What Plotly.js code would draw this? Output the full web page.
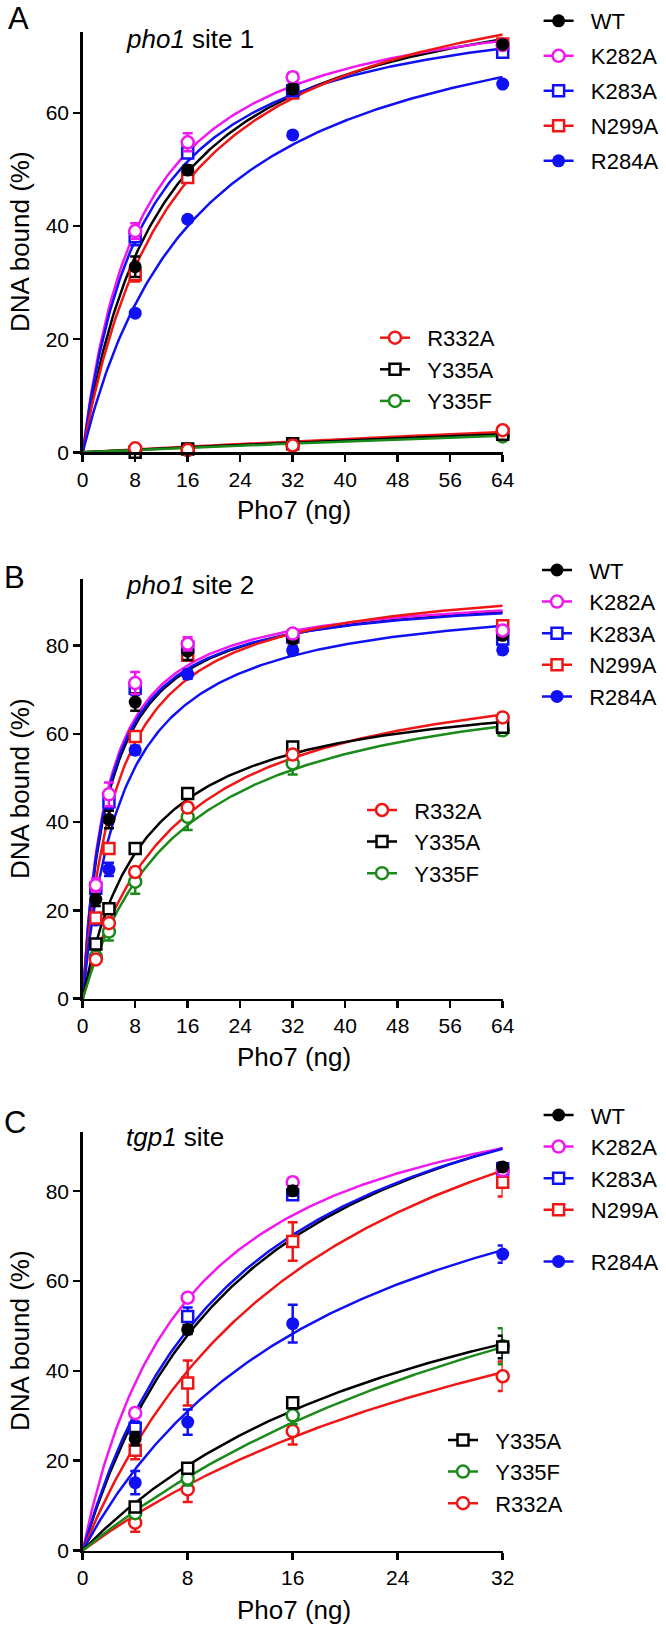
<!DOCTYPE html>
<html><head><meta charset="utf-8">
<script src="https://cdn.plot.ly/plotly-3.0.1.min.js"></script>
<style>html,body{margin:0;padding:0;background:#fff}</style>
</head><body><div id="chart" style="width:666px;height:1633px"></div>
<script>
// ---------- data ----------
const seriesNames = ['WT','K282A','K283A','N299A','R284A','R332A','Y335A','Y335F'];

// Panel A: pho1 site 1
const xA = [8, 16, 32, 64];
const A_WT    = [32.8, 49.9, 64.2, 72.1];
const A_K282A = [39.1, 54.8, 66.3, 72.0];
const A_K283A = [38.1, 52.9, 63.9, 70.7];
const A_N299A = [31.4, 48.6, 63.5, 72.2];
const A_R284A = [24.6, 41.2, 56.1, 65.1];
const A_R332A = [0.7, 0.4, 1.2, 3.9];
const A_Y335A = [0.0, 0.6, 1.5, 3.2];
const A_Y335F = [0.3, 0.5, 1.2, 2.8];
const A_errWT    = [1.8, 0.8, 0.8, 0.5];
const A_errK282A = [1.4, 1.6, 0.8, 0.8];
const A_errK283A = [1.5, 0.8, 0.8, 0.8];
const A_errN299A = [1.2, 0.8, 0.5, 0.5];
const A_errR284A = [0.5, 0.5, 0.5, 0.5];
const A_errR332A = [0.3, 0.3, 0.3, 0.3];
const A_errY335A = [0.3, 0.3, 0.3, 0.3];
const A_errY335F = [0.3, 0.3, 0.3, 0.3];
const A_fitBmax = [86.7, 83.0, 82.0, 90.0, 85.0, 31.7, 28.2, 25.6];
const A_fitKd   = [12.0, 9.0, 9.5, 14.0, 18.0, 500, 500, 500];

// Panel B: pho1 site 2
const xB = [2, 4, 8, 16, 32, 64];
const B_WT    = [22.5, 40.6, 67.2, 78.7, 81.5, 82.3];
const B_K282A = [25.7, 46.3, 71.5, 80.4, 82.7, 83.4];
const B_K283A = [25.0, 44.6, 70.3, 79.6, 82.0, 81.5];
const B_N299A = [18.3, 34.0, 59.4, 77.8, 82.0, 84.5];
const B_R284A = [17.8, 29.3, 56.3, 73.5, 78.9, 79.0];
const B_R332A = [8.9, 17.1, 28.7, 43.3, 55.3, 63.7];
const B_Y335A = [12.4, 20.4, 34.0, 46.5, 57.0, 61.5];
const B_Y335F = [9.5, 15.2, 26.5, 41.2, 53.3, 60.8];
const B_errWT    = [1.5, 2.0, 2.0, 2.0, 1.0, 1.0];
const B_errK282A = [1.5, 2.7, 2.5, 1.5, 1.0, 1.0];
const B_errK283A = [1.0, 1.5, 1.5, 1.0, 1.0, 1.0];
const B_errN299A = [1.0, 1.0, 1.0, 1.0, 1.0, 1.0];
const B_errR284A = [1.0, 1.5, 1.0, 1.0, 1.0, 1.0];
const B_errR332A = [0.5, 0.8, 1.0, 1.0, 1.0, 1.0];
const B_errY335A = [0.8, 0.8, 0.8, 0.8, 1.0, 1.0];
const B_errY335F = [1.0, 2.0, 2.7, 3.0, 2.5, 1.2];
const B_fitBmax = [93.0, 93.0, 92.5, 96.3, 92.5, 78.4, 71.9, 76.2];
const B_fitKd   = [4.0, 3.7, 3.8, 5.26, 6.1, 14.0, 9.44, 15.0];

// Panel C: tgp1 site
const xC = [4, 8, 16, 32];
const C_WT    = [24.9, 49.2, 80.1, 85.4];
const C_K282A = [30.6, 56.3, 82.0, 84.7];
const C_K283A = [27.2, 52.1, 79.2, 85.0];
const C_N299A = [22.3, 37.3, 68.8, 82.0];
const C_R284A = [15.1, 28.6, 50.5, 66.0];
const C_R332A = [6.2, 13.6, 26.6, 38.8];
const C_Y335A = [9.7, 18.3, 32.9, 45.3];
const C_Y335F = [8.3, 16.0, 30.1, 45.5];
const C_errWT    = [1.5, 1.0, 1.0, 1.0];
const C_errK282A = [1.0, 1.0, 1.0, 1.0];
const C_errK283A = [1.5, 2.0, 1.0, 1.0];
const C_errN299A = [2.0, 5.0, 4.3, 3.2];
const C_errR284A = [2.6, 2.8, 4.2, 1.9];
const C_errR332A = [2.0, 2.8, 3.0, 3.3];
const C_errY335A = [1.0, 1.0, 1.2, 2.5];
const C_errY335F = [1.0, 1.5, 2.0, 4.0];
const C_fitBmax = [126, 112, 123, 134.6, 108.7, 93.0, 87.7, 110.4];
const C_fitKd   = [13, 8, 12, 18.9, 20, 43, 29, 46];

const xTicksAB = [0, 8, 16, 24, 32, 40, 48, 56, 64];
const xTicksC  = [0, 8, 16, 24, 32];
const yTicksA  = [0, 20, 40, 60];
const yTicksBC = [0, 20, 40, 60, 80];

// ---------- styles ----------
const FONT = 'Liberation Sans, Arial, Helvetica, sans-serif';
const RED = '#f01616', BLUE = '#1010f5', MAG = '#f018f0', GRN = '#1a8a1a', BLK = '#000000';
const style = {
  WT:    {color: BLK,  symbol: 'circle', open: false},
  K282A: {color: MAG,  symbol: 'circle', open: true},
  K283A: {color: BLUE, symbol: 'square', open: true},
  N299A: {color: RED,  symbol: 'square', open: true},
  R284A: {color: BLUE, symbol: 'circle', open: false},
  R332A: {color: RED,  symbol: 'circle', open: true},
  Y335A: {color: BLK,  symbol: 'square', open: true},
  Y335F: {color: GRN,  symbol: 'circle', open: true}
};
function markerFor(name) {
  const s = style[name];
  const size = s.symbol === 'square' ? 11 : (s.open ? 12 : 13);
  return s.open
    ? {symbol: s.symbol, size: size, color: '#ffffff', line: {color: s.color, width: 2.5}}
    : {symbol: s.symbol, size: size, color: s.color, line: {color: s.color, width: 0}};
}
const LEGEND_PAD = '\u00a0\u00a0';  // gap between legend symbol and label

const panels = [
  {x: xA, xmax: 64, ax: 'x', ay: 'y',
   vals: {WT: A_WT, K282A: A_K282A, K283A: A_K283A, N299A: A_N299A, R284A: A_R284A, R332A: A_R332A, Y335A: A_Y335A, Y335F: A_Y335F},
   errs: {WT: A_errWT, K282A: A_errK282A, K283A: A_errK283A, N299A: A_errN299A, R284A: A_errR284A, R332A: A_errR332A, Y335A: A_errY335A, Y335F: A_errY335F},
   bmax: A_fitBmax, kd: A_fitKd,
   drawOrder: ['Y335F','Y335A','R332A','R284A','N299A','K283A','K282A','WT'],
   legends: [{id: 'legend', items: ['WT','K282A','K283A','N299A','R284A'], groups: [0,1,2,3,4]},
             {id: 'legend2', items: ['R332A','Y335A','Y335F'], groups: [0,0,0]}]},
  {x: xB, xmax: 64, ax: 'x2', ay: 'y2',
   vals: {WT: B_WT, K282A: B_K282A, K283A: B_K283A, N299A: B_N299A, R284A: B_R284A, R332A: B_R332A, Y335A: B_Y335A, Y335F: B_Y335F},
   errs: {WT: B_errWT, K282A: B_errK282A, K283A: B_errK283A, N299A: B_errN299A, R284A: B_errR284A, R332A: B_errR332A, Y335A: B_errY335A, Y335F: B_errY335F},
   bmax: B_fitBmax, kd: B_fitKd,
   drawOrder: ['Y335F','Y335A','R332A','R284A','N299A','K283A','WT','K282A'],
   legends: [{id: 'legend3', items: ['WT','K282A','K283A','N299A','R284A'], groups: [0,0,0,0,0]},
             {id: 'legend4', items: ['R332A','Y335A','Y335F'], groups: [0,0,0]}]},
  {x: xC, xmax: 32, ax: 'x3', ay: 'y3',
   vals: {WT: C_WT, K282A: C_K282A, K283A: C_K283A, N299A: C_N299A, R284A: C_R284A, R332A: C_R332A, Y335A: C_Y335A, Y335F: C_Y335F},
   errs: {WT: C_errWT, K282A: C_errK282A, K283A: C_errK283A, N299A: C_errN299A, R284A: C_errR284A, R332A: C_errR332A, Y335A: C_errY335A, Y335F: C_errY335F},
   bmax: C_fitBmax, kd: C_fitKd,
   drawOrder: ['R332A','Y335F','Y335A','R284A','N299A','K283A','K282A','WT'],
   legends: [{id: 'legend5', items: ['WT','K282A','K283A','N299A','R284A'], groups: [0,0,0,0,1]},
             {id: 'legend6', items: ['Y335A','Y335F','R332A'], groups: [0,0,0]}]}
];

const traces = [];
panels.forEach((p, pi) => {
  // fitted one-site binding curves
  seriesNames.forEach((name, si) => {
    const xs = [], ys = [];
    for (let i = 0; i <= 240; i++) {
      const xv = p.xmax * i / 240;
      xs.push(xv); ys.push(p.bmax[si] * xv / (p.kd[si] + xv));
    }
    traces.push({type: 'scatter', mode: 'lines', x: xs, y: ys, xaxis: p.ax, yaxis: p.ay,
      line: {color: style[name].color, width: 2.5}, showlegend: false, hoverinfo: 'skip', cliponaxis: false});
  });
  // data points with error bars
  p.drawOrder.forEach(name => {
    traces.push({type: 'scatter', mode: 'markers', x: p.x, y: p.vals[name], xaxis: p.ax, yaxis: p.ay,
      marker: markerFor(name), cliponaxis: false, showlegend: false,
      error_y: {type: 'data', array: p.errs[name], visible: true, color: style[name].color, thickness: 2.5, width: 5}});
  });
  // legend entries
  p.legends.forEach(lg => {
    lg.items.forEach((name, k) => {
      traces.push({type: 'scatter', mode: 'lines+markers', x: [null], y: [null], xaxis: p.ax, yaxis: p.ay,
        name: LEGEND_PAD + name, legend: lg.id, legendgroup: lg.id + '_g' + lg.groups[k], showlegend: true,
        line: {color: style[name].color, width: 2.5}, marker: markerFor(name)});
    });
  });
});

const H = 1633, W = 666;
const px = v => v / W;
const py = v => 1 - v / H;

function xax(domainRange, ticks) {
  return {domain: [px(82.7), px(502.7)], range: domainRange, tickmode: 'array', tickvals: ticks,
    showline: true, linecolor: '#000', linewidth: 2.5, ticks: 'outside', ticklen: 7, tickwidth: 2.5, tickcolor: '#000',
    tickfont: {family: FONT, size: 21, color: '#000'}, showgrid: false, zeroline: false, automargin: false, fixedrange: true};
}
function yax(top, bottom, domainRange, ticks, anchor) {
  return {domain: [py(bottom), py(top)], range: domainRange, tickmode: 'array', tickvals: ticks, anchor: anchor,
    showline: true, linecolor: '#000', linewidth: 2.5, ticks: 'outside', ticklen: 7, tickwidth: 2.5, tickcolor: '#000',
    tickfont: {family: FONT, size: 21, color: '#000'}, showgrid: false, zeroline: false, automargin: false, fixedrange: true};
}
function legendAt(x, y, gap) {
  return {x: px(x), y: py(y), xanchor: 'left', yanchor: 'top', xref: 'paper', yref: 'paper',
    bgcolor: 'rgba(0,0,0,0)', borderwidth: 0, itemwidth: 30, tracegroupgap: gap, traceorder: 'grouped',
    font: {family: FONT, size: 22, color: '#000'}};
}
function ann(text, x, y, size, opts) {
  return Object.assign({text: text, x: px(x), y: py(y), xref: 'paper', yref: 'paper', showarrow: false,
    xanchor: 'center', yanchor: 'middle', font: {family: FONT, size: size, color: '#000'}}, opts || {});
}

const layout = {
  width: W, height: H, margin: {l: 0, r: 0, t: 0, b: 0, pad: 0},
  paper_bgcolor: '#fff', plot_bgcolor: 'rgba(0,0,0,0)',
  xaxis:  Object.assign(xax([0, 64], xTicksAB), {anchor: 'y'}),
  yaxis:  yax(32, 452.3, [0, 74.3], yTicksA, 'x'),
  xaxis2: Object.assign(xax([0, 64], xTicksAB), {anchor: 'y2'}),
  yaxis2: yax(579.3, 998.7, [0, 95], yTicksBC, 'x2'),
  xaxis3: Object.assign(xax([0, 32], xTicksC), {anchor: 'y3'}),
  yaxis3: yax(1131.5, 1550.5, [0, 93.3], yTicksBC, 'x3'),
  legend:  legendAt(538.6, 0, 3.4),
  legend2: legendAt(375, 316.9, 0),
  legend3: legendAt(537, 549.2, 0),
  legend4: legendAt(362, 789.2, 0),
  legend5: legendAt(538.6, 1094.2, 20),
  legend6: legendAt(443, 1419.2, 0),
  annotations: [
    ann('A', 18, 18, 31), ann('B', 14, 577, 31), ann('C', 15, 1122, 31),
    ann('<i>pho1</i> site 1', 124, 39, 26, {xanchor: 'left'}),
    ann('<i>pho1</i> site 2', 124, 585, 26, {xanchor: 'left'}),
    ann('<i>tgp1</i> site', 124, 1137, 26, {xanchor: 'left'}),
    ann('DNA bound (%)', 20, 242, 26, {textangle: -90}),
    ann('DNA bound (%)', 20, 789, 26, {textangle: -90}),
    ann('DNA bound (%)', 20, 1341, 26, {textangle: -90}),
    ann('Pho7 (ng)', 294, 510, 26),
    ann('Pho7 (ng)', 294, 1057, 26),
    ann('Pho7 (ng)', 294, 1610, 26)
  ],
  showlegend: true
};

Plotly.newPlot('chart', traces, layout, {staticPlot: true, displayModeBar: false});
</script></body></html>
